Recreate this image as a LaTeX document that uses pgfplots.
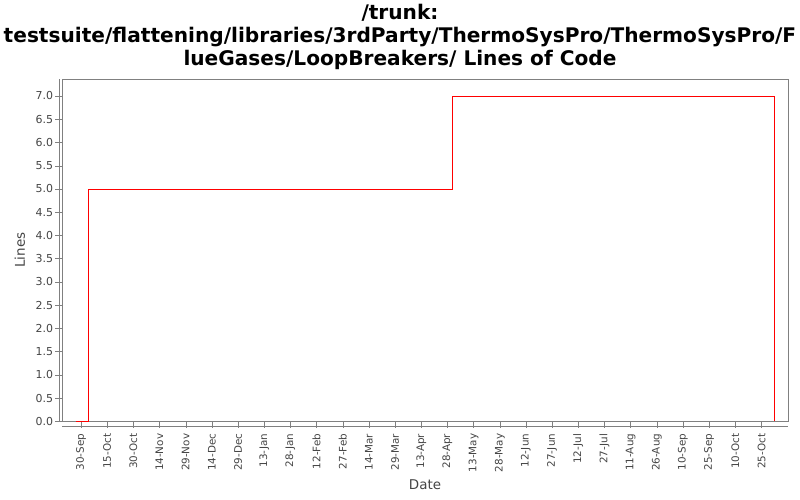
\documentclass[border=0pt]{standalone}
\usepackage{fontspec}
\setmainfont{DejaVu Sans}
\usepackage{pgfplots}
\pgfplotsset{compat=1.18}
\definecolor{ticktext}{HTML}{444444}
\definecolor{axisgray}{HTML}{808080}
\definecolor{linered}{HTML}{FF0000}
\begin{document}
\begin{tikzpicture}
\path[use as bounding box] (0,0) rectangle (800bp,500bp);
\node[align=center, font=\fontsize{20.2}{23.5}\selectfont\bfseries] at (400bp,463bp)
  {/trunk:\\testsuite/flattening/libraries/3rdParty/ThermoSysPro/ThermoSysPro/F\\lueGases/LoopBreakers/ Lines of Code};
\begin{axis}[
    at={(62bp,78.7bp)}, anchor=south west,
    scale only axis, width=726bp, height=342.3bp,
    xmin=-10.9, xmax=405.2,
    ymin=0, ymax=7.366,
    axis line style={axisgray},
    tick style={axisgray, thin},
    tick align=outside,
    major tick length=6.5bp,
    xtick pos=bottom, ytick pos=left,
    ytick={0,0.5,...,7},
    yticklabels={0.0,0.5,1.0,1.5,2.0,2.5,3.0,3.5,4.0,4.5,5.0,5.5,6.0,6.5,7.0},
    xtick={0,15,...,390},
    xticklabels={30-Sep,15-Oct,30-Oct,14-Nov,29-Nov,14-Dec,29-Dec,13-Jan,28-Jan,12-Feb,27-Feb,14-Mar,29-Mar,13-Apr,28-Apr,13-May,28-May,12-Jun,27-Jun,12-Jul,27-Jul,11-Aug,26-Aug,10-Sep,25-Sep,10-Oct,25-Oct},
    yticklabel style={font=\fontsize{11}{13}\selectfont, text=ticktext, anchor=east, xshift=1bp},
    xticklabel style={font=\fontsize{10.4}{12}\selectfont, text=ticktext, yshift=-2.5bp, rotate=90, anchor=east},
    xlabel={Date}, ylabel={Lines},
    xlabel style={font=\fontsize{13.5}{16}\selectfont, text=ticktext, at={(axis description cs:0.5,-0.186)}, anchor=center},
    ylabel style={font=\fontsize{13.5}{16}\selectfont, text=ticktext, at={(axis description cs:-0.0579,0.5)}, anchor=center},
    clip=false,
]
\draw[axisgray] ([xshift=-3bp]rel axis cs:0,0) -- ([xshift=-3bp]rel axis cs:0,1);
\draw[axisgray] ([yshift=-4.5bp]rel axis cs:0,0) -- ([yshift=-4.5bp]rel axis cs:1,0);
\addplot[linered, line width=0.8pt, mark=none] coordinates {
  (-2.9,0) (4.2,0) (4.2,5) (212.8,5) (212.8,7) (397.3,7) (397.3,0)
};
\end{axis}
\end{tikzpicture}
\end{document}
